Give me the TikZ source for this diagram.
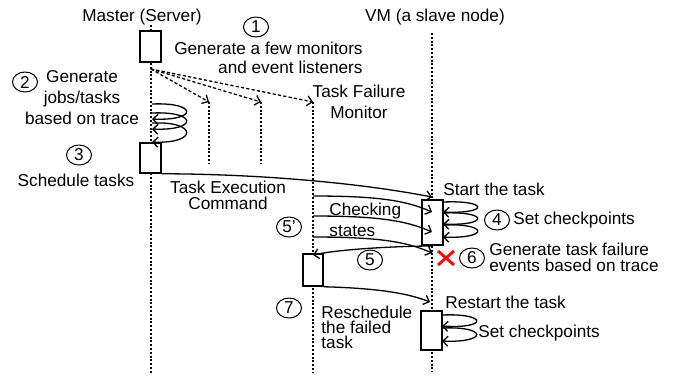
\documentclass[tikz,border=0pt]{standalone}
\usepackage{fontspec}
\setmainfont{Liberation Sans}
\usetikzlibrary{arrows.meta,shapes.geometric}
\definecolor{xred}{RGB}{232,20,20}
\begin{document}
\begin{tikzpicture}[x=0.5pt,y=-0.5pt,
  txt/.style={inner sep=0pt,font=\fontsize{8.6}{10.5}\selectfont},
  num/.style={ellipse,draw,line width=0.5pt,minimum width=12.5pt,minimum height=10pt,inner sep=0pt,font=\fontsize{8.6}{10}\selectfont},
  life/.style={line width=0.6pt,dash pattern=on 1pt off 0.9pt},
  actbox/.style={draw,fill=white,line width=0.75pt,inner sep=0pt,minimum width=10.5pt},
  msg/.style={line width=0.65pt,-{Straight Barb[length=2.5pt,width=5pt]}},
  spawn/.style={msg,dash pattern=on 1.6pt off 1.1pt},
]
\useasboundingbox (0,0) rectangle (688,377);

% lifeline end points
\coordinate (mT) at (151,25);   \coordinate (mB) at (151,373);
\coordinate (aT) at (209,102);  \coordinate (aB) at (209,163);
\coordinate (bT) at (261,102);  \coordinate (bB) at (261,163);
\coordinate (fT) at (313,102);  \coordinate (fB) at (313,373);
\coordinate (vT) at (432,33);   \coordinate (vB) at (432,372);

\draw[life] (mT) -- (mB);
\draw[life] (aT) -- (aB);
\draw[life] (bT) -- (bB);
\draw[life] (fT) -- (fB);
\draw[life] (vT) -- (vB);

% activation boxes
\node[actbox,minimum height=15.5pt] (b1) at (150.5,46.5) {};
\node[actbox,minimum height=15pt] (b2) at (150.5,158) {};
\node[actbox,minimum height=22.5pt] (b4) at (432.5,222.5) {};
\node[actbox,minimum width=10pt,minimum height=16pt] (b5) at (313,270) {};
\node[actbox,minimum height=19.5pt] (b7) at (431.5,330.5) {};

% headings
\node[txt] (master) at (142,17) {Master (Server)};
\node[txt] (vm) at (435,17) {VM (a slave node)};

% step 1: spawn monitors
\coordinate (sp) at (151,69);
\draw[spawn] (sp) -- (aT);
\draw[spawn] (sp) -- (bT);
\draw[spawn] (sp) -- (fT);
\node[num] (n1) at (256,27) {1};
\node[txt,align=right,anchor=east,font=\fontsize{8.6}{9.5}\selectfont] (t1) at (363,57.5) {Generate a few monitors\\and event listeners};
\node[txt,align=center,font=\fontsize{8.6}{10.5}\selectfont] (tfm) at (359,101.5) {Task Failure\\Monitor};

% step 2: generate jobs
\coordinate (l1a) at (152,104); \coordinate (l1b) at (152,119);
\coordinate (l2a) at (152,113); \coordinate (l2b) at (152,129);
\coordinate (l3a) at (152,123); \coordinate (l3b) at (152,142);
\draw[msg] (l1a) .. controls (198,102) and (198,121) .. (l1b);
\draw[msg] (l2a) .. controls (198,111) and (198,131) .. (l2b);
\draw[msg] (l3a) .. controls (198,121) and (198,144) .. (l3b);
\node[num] (n2) at (25,82) {2};
\node[txt,align=center] (t2) at (82,98) {Generate\\jobs/tasks\\based on trace};

% step 3: schedule
\node[num] (n3) at (79,155) {3};
\node[txt] (t3) at (76,180) {Schedule tasks};
\coordinate (vs) at (432,197);
\draw[msg] (b2.south east) .. controls (260,174) and (360,183) .. (vs);
\node[txt,align=center,font=\fontsize{8.6}{8}\selectfont] (tec) at (228,195) {Task Execution\\Command};

% step 4: start + checkpoints
\node[txt,anchor=west] (t4a) at (443,189) {Start the task};
\coordinate (c1a) at (443,202); \coordinate (c1b) at (443,212);
\coordinate (c2a) at (443,213); \coordinate (c2b) at (443,224);
\coordinate (c3a) at (443,225); \coordinate (c3b) at (443,237);
\draw[msg] (c1a) .. controls (489,200) and (489,214) .. (c1b);
\draw[msg] (c2a) .. controls (489,211) and (489,226) .. (c2b);
\draw[msg] (c3a) .. controls (489,223) and (489,239) .. (c3b);
\node[num] (n4) at (497,220) {4};
\node[txt,anchor=west] (t4) at (513,220) {Set checkpoints};

% step 5': checking states
\coordinate (k1a) at (313,196); \coordinate (k1b) at (432,212);
\coordinate (k2a) at (313,216); \coordinate (k2b) at (432,232);
\coordinate (k3a) at (313,237); \coordinate (k3b) at (432,253);
\draw[msg] (k1a) .. controls (375,196) and (405,200) .. (k1b);
\draw[msg] (k2a) .. controls (375,216) and (405,220) .. (k2b);
\draw[msg] (k3a) .. controls (375,237) and (405,241) .. (k3b);
\node[txt,align=left,anchor=west] (tcs) at (329,219.5) {Checking\\states};
\node[num] (n5p) at (289,227) {5'};

% step 5: failure event
\coordinate (f5) at (432,246);
\draw[msg] (f5) .. controls (400,246) and (340,249) .. (313,255);
\node[num] (n5) at (370,260) {5};

% step 6: failure
\coordinate (xc) at (446,258);
\draw[xred,line width=1.5pt] ([shift={(-8,-7)}]xc) -- ([shift={(8,7)}]xc)
  ([shift={(-8,7)}]xc) -- ([shift={(8,-7)}]xc);
\node[num] (n6) at (472,258) {6};
\node[txt,align=left,anchor=west,font=\fontsize{8.6}{8}\selectfont] (t6) at (489,257) {Generate task failure\\events based on trace};

% step 7: reschedule
\coordinate (rs) at (430,302);
\draw[msg] (b5.south east) .. controls (370,288) and (405,292) .. (rs);
\node[num] (n7) at (289,308) {7};
\node[txt,align=left,anchor=west,font=\fontsize{8.6}{7.5}\selectfont] (t7) at (321,327) {Reschedule\\the failed\\task};
\node[txt,anchor=west] (t7a) at (445,302) {Restart the task};
\coordinate (r1a) at (442,315); \coordinate (r1b) at (442,326);
\coordinate (r2a) at (442,328); \coordinate (r2b) at (442,341);
\draw[msg] (r1a) .. controls (488,313) and (488,329) .. (r1b);
\draw[msg] (r2a) .. controls (488,326) and (488,343) .. (r2b);
\node[txt,anchor=west] (t7b) at (478,333) {Set checkpoints};
\end{tikzpicture}
\end{document}
